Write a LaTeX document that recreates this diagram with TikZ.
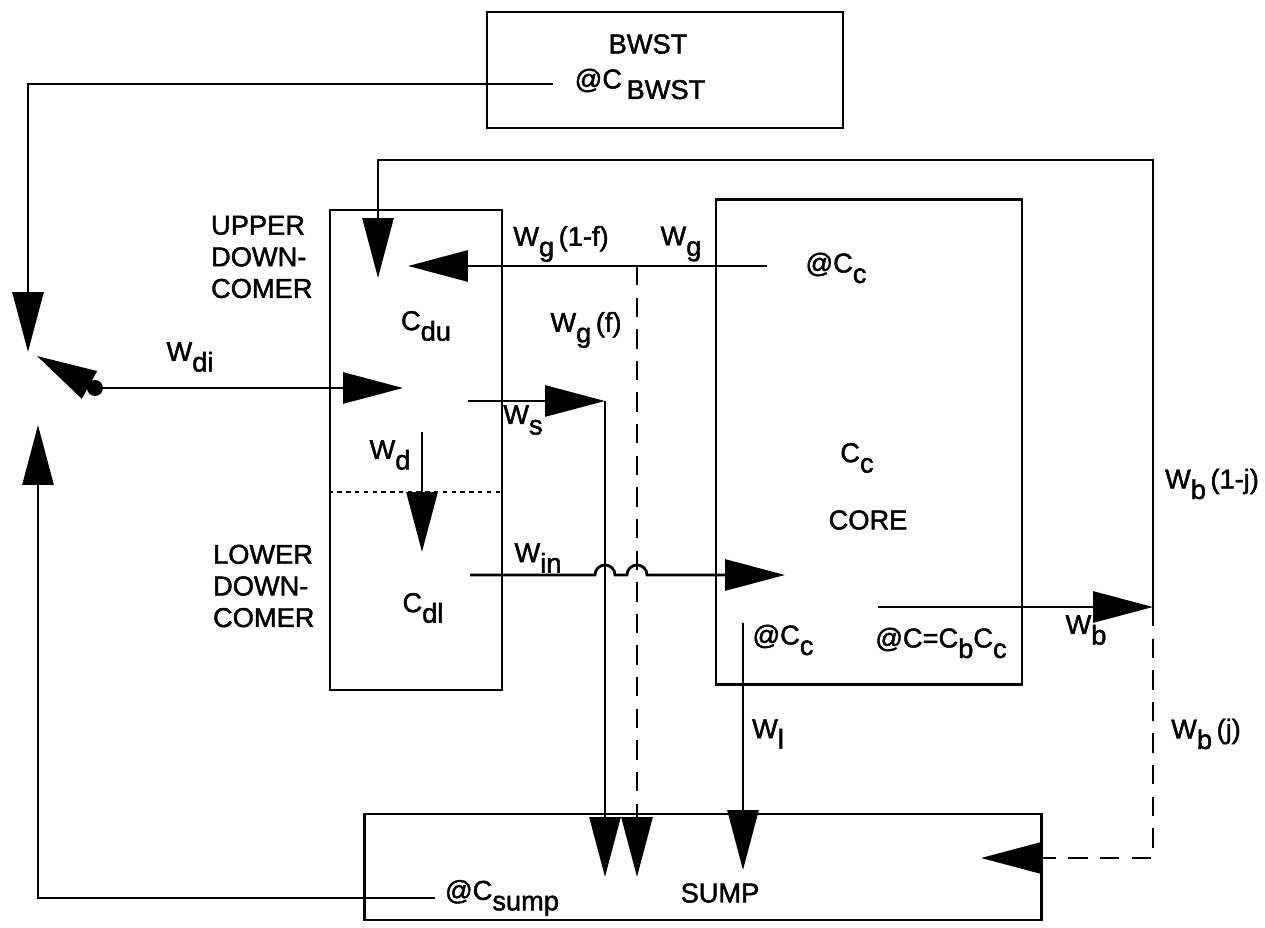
\documentclass[tikz,border=0pt]{standalone}
\usepackage{fontspec}
\setmainfont{Liberation Sans}[BoldFont={Liberation Sans}, BoldFeatures={FakeBold=1.6}]
\usetikzlibrary{arrows.meta, positioning, calc}
\newcommand{\lo}[1]{\raisebox{-6pt}{#1}}

\begin{document}
\begin{tikzpicture}[
        x=0.02cm, y=-0.02cm,
        font=\fontsize{15.5}{18}\selectfont\bfseries,
        vessel/.style={rectangle, draw, line width=1.6pt, inner sep=0pt},
        lbl/.style={inner sep=1pt},
        pipe/.style={line width=1.6pt},
        flow/.style={pipe, -{Triangle[length=1.2cm, width=0.62cm]}},
        split/.style={flow, dash pattern=on 11pt off 7pt}
    ]
    \useasboundingbox (0,0) rectangle (1265,928);

    % tanks
    \node[vessel, minimum width=7.12cm, minimum height=2.32cm] (bwst) at (665,70) {};
    \node[vessel, minimum width=3.44cm, minimum height=9.6cm] (dc) at (416,450) {};
    \node[vessel, minimum width=6.12cm, minimum height=9.7cm] (core) at (869,442) {};
    \node[vessel, minimum width=13.54cm, minimum height=2.12cm] (sump) at (703,867) {};
    \draw[line width=1pt, dash pattern=on 2.5pt off 2.5pt] (dc.west |- 0,492) -- (dc.east |- 0,492);

    % texts
    \node[lbl] (bwstname) at (648,44) {BWST};
    \node[lbl] (bwstc) at (640,84) {@C\,\lo{BWST}};
    \node[lbl, align=left, anchor=west] (upper) at (209,257) {UPPER\\DOWN-\\COMER};
    \node[lbl, align=left, anchor=west] (lower) at (211,586) {LOWER\\DOWN-\\COMER};
    \node[lbl] (cdu) at (426,326) {C\lo{du}};
    \node[lbl] (cdl) at (423,608) {C\lo{dl}};
    \node[lbl] (wdi) at (190,357) {W\lo{di}};
    \node[lbl] (wd) at (390,455) {W\lo{d}};
    \node[lbl] (wgl) at (561,244) {W\lo{g}\,(1-f)};
    \node[lbl] (wg) at (681,244) {W\lo{g}};
    \node[lbl] (wgf) at (586,330) {W\lo{g}\,(f)};
    \node[lbl] (ws) at (523,420) {W\lo{s}};
    \node[lbl] (win) at (538,558) {W\lo{in}};
    \node[lbl] (cctop) at (836,268) {@C\lo{c}};
    \node[lbl] (cc) at (857,458) {C\lo{c}};
    \node[lbl] (corename) at (868,520) {CORE};
    \node[lbl] (ccbot) at (783,640) {@C\lo{c}};
    \node[lbl] (cb) at (941,643) {@C=C\lo{b}C\lo{c}};
    \node[lbl] (wb) at (1086,630) {W\lo{b}};
    \node[lbl] (wbr) at (1212,484) {W\lo{b}\,(1-j)};
    \node[lbl] (wbj) at (1206,734) {W\lo{b}\,(j)};
    \node[lbl] (wl) at (768,734) {W\lo{l}};
    \node[lbl] (sumpc) at (502,898) {@C\lo{sump}};
    \node[lbl] (sumpname) at (720,893) {SUMP};

    % junction and end points
    \node[circle, fill, inner sep=0pt, minimum size=0.32cm] (valve) at (95,388) {};
    \coordinate (upin) at (28,352);
    \coordinate (lowin) at (38,425);
    \coordinate (valvetip) at (37,356);
    \coordinate (dcin) at (403,388);
    \coordinate (dctop) at (378,278);
    \coordinate (looptl) at (378,160);
    \coordinate (wgout) at (767,266);
    \coordinate (wgin) at (408,266);
    \coordinate (wgsplit) at (637,266);
    \coordinate (wsout) at (468,401);
    \coordinate (wsc) at (605,401);
    \coordinate (wdtop) at (422,432);
    \coordinate (wdtip) at (422,552);
    \coordinate (winout) at (470,575);
    \coordinate (corein) at (785,575);
    \coordinate (wlout) at (743,623);
    \coordinate (wbout) at (878,607);
    \coordinate (wbc) at (1153,607);
    \coordinate (sumpin1) at (605,877);
    \coordinate (sumpin2) at (637,877);
    \coordinate (sumpin3) at (743,870);
    \coordinate (wbjc) at (1153,858);
    \coordinate (sumpin4) at (981,858);

    \draw[flow] ([xshift=-0.4cm]bwstc.west) -| (upin);
    \draw[flow] ([xshift=-0.15cm]sumpc.west) -| (lowin);
    \draw[flow] (valve.center) -- (valvetip);
    \draw[flow] (valve) -- (dcin);
    \draw[flow] (wgout) -- (wgin);
    \draw[split] (wgsplit) -- (sumpin2);
    \draw[flow] (wsout) -- (wsc);
    \draw[flow] (wsc) -- (sumpin1);
    \draw[flow] (wdtop) -- (wdtip);
    \draw[flow] (winout) -- (595,575) arc[start angle=180, end angle=0, radius=0.2cm]
        -- (627,575) arc[start angle=180, end angle=0, radius=0.2cm] -- (corein);
    \draw[flow] (wlout) -- (sumpin3);
    \draw[flow] (wbout) -- (wbc);
    \draw[flow] (wbc) |- (looptl) -- (dctop);
    \draw[split] (wbc) -- (wbjc) -- (sumpin4);
\end{tikzpicture}
\end{document}
